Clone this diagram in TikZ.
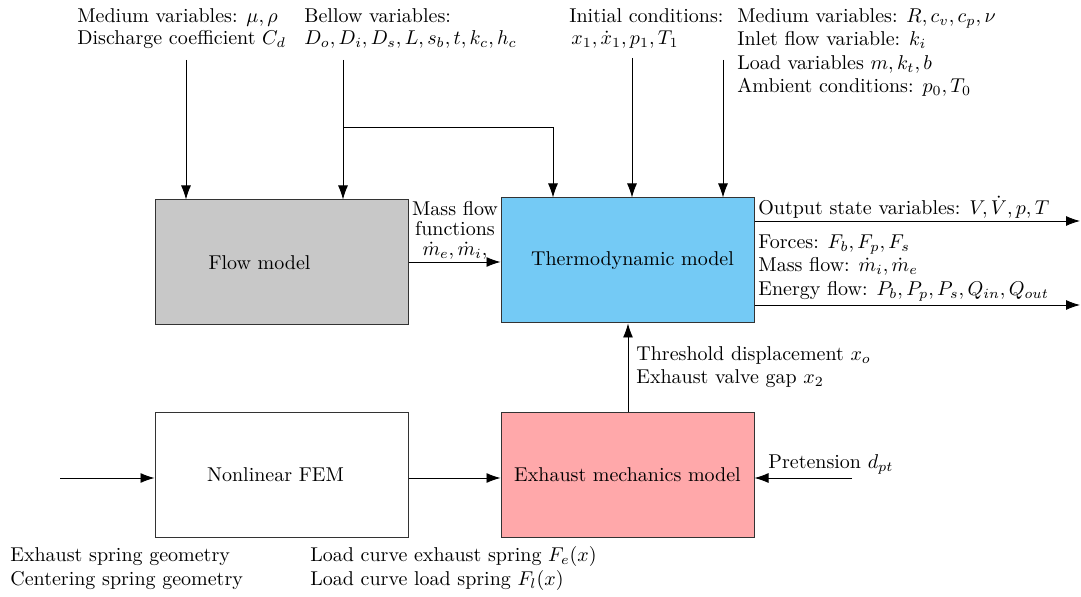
\documentclass[tikz,border=0pt]{standalone}
\usetikzlibrary{arrows.meta}
\definecolor{flowgray}{HTML}{C8C8C8}
\definecolor{thermoblue}{HTML}{74CAF5}
\definecolor{mechpink}{HTML}{FFA8AA}
\begin{document}
\begin{tikzpicture}[x=0.5pt,y=-0.5pt,
  box/.style={draw=black!80,line width=0.5pt,minimum width=126.5pt,minimum height=62.5pt,inner sep=0pt},
  lbl/.style={anchor=base west,inner sep=0pt},
  clbl/.style={anchor=base,inner sep=0pt},
  conn/.style={-{Latex[length=7pt,width=5pt]},line width=0.45pt},
  line/.style={line width=0.45pt}]
\useasboundingbox (0,0) rectangle (1081,597);
% boxes
\node[box,fill=flowgray] (flow) at (281.5,262.5) {Flow model\kern22pt};
\node[box,fill=thermoblue] (thermo) at (627.5,260.5) {\kern5pt Thermodynamic model};
\node[box,fill=white] (fem) at (281.5,475) {Nonlinear FEM\kern6pt};
\node[box,fill=mechpink] (mech) at (627.5,475) {Exhaust mechanics model};
% top texts
\node[lbl] (mv1) at (77,23) {Medium variables: $\mu,\rho$};
\node[lbl] (mv2) at (77,45) {Discharge coefficient $C_d$};
\node[lbl] (bv1) at (304,23) {Bellow variables:};
\node[lbl] (bv2) at (304,45) {$D_o,D_i,D_s,L,s_b,t,k_c,h_c$};
\node[lbl] (ic1) at (569,23) {Initial conditions:};
\node[lbl] (ic2) at (571,45) {$x_1,\dot{x}_1,p_1,T_1$};
\node[lbl] (r1) at (737,23) {Medium variables: $R,c_v,c_p,\nu$};
\node[lbl] (r2) at (737,46) {Inlet flow variable: $k_i$};
\node[lbl] (r3) at (737,70) {Load variables $m,k_t,b$};
\node[lbl] (r4) at (737,93) {Ambient conditions: $p_0,T_0$};
% mass flow label
\node[clbl] (mf1) at (455,216) {Mass flow};
\node[clbl] (mf2) at (455,236) {functions};
\node[clbl] (mf3) at (455,256) {$\dot{m}_e,\dot{m}_i,$};
% right outputs
\node[lbl] (o1) at (758,215) {Output state variables: $V,\dot{V},p,T$};
\node[lbl] (o2) at (758,249) {Forces: $F_b,F_p,F_s$};
\node[lbl] (o3) at (758,272) {Mass flow: $\dot{m}_i,\dot{m}_e$};
\node[lbl] (o4) at (758,296) {Energy flow: $P_b,P_p,P_s,Q_{in},Q_{out}$};
% lower labels
\node[lbl] (t1) at (636,361) {Threshold displacement $x_o$};
\node[lbl] (t2) at (636,384) {Exhaust valve gap $x_2$};
\node[lbl] (pt) at (768,469) {Pretension $d_{pt}$};
\node[lbl] (g1) at (10,562) {Exhaust spring geometry};
\node[lbl] (g2) at (10,586) {Centering spring geometry};
\node[lbl] (lc1) at (310,562) {Load curve exhaust spring $F_e(x)$};
\node[lbl] (lc2) at (310,586) {Load curve load spring $F_l(x)$};
% coordinates
\coordinate (s1) at (186,60);
\coordinate (s2) at (343,60);
\coordinate (br) at (343,127);
\coordinate (s3) at (632,58);
\coordinate (s4) at (723,60);
\coordinate (e1) at (1080,221);
\coordinate (e2) at (1080,305);
\coordinate (in) at (60,478);
\coordinate (pe) at (852,478);
% connectors
\draw[conn] (s1) -- (s1 |- flow.north);
\draw[conn] (s2) -- (s2 |- flow.north);
\draw[conn] (br) -- (553,127) -- (553,0 |- thermo.north);
\draw[conn] (s3) -- (s3 |- thermo.north);
\draw[conn] (s4) -- (s4 |- thermo.north);
\draw[conn] (flow.east |- 0,262) -- (thermo.west |- 0,262);
\draw[conn] (thermo.east |- e1) -- (e1);
\draw[conn] (thermo.east |- e2) -- (e2);
\draw[conn] (mech.north -| 628,0) -- (thermo.south -| 628,0);
\draw[conn] (in) -- (fem.west |- in);
\draw[conn] (fem.east |- in) -- (mech.west |- in);
\draw[conn] (pe) -- (mech.east |- pe);
\end{tikzpicture}
\end{document}
